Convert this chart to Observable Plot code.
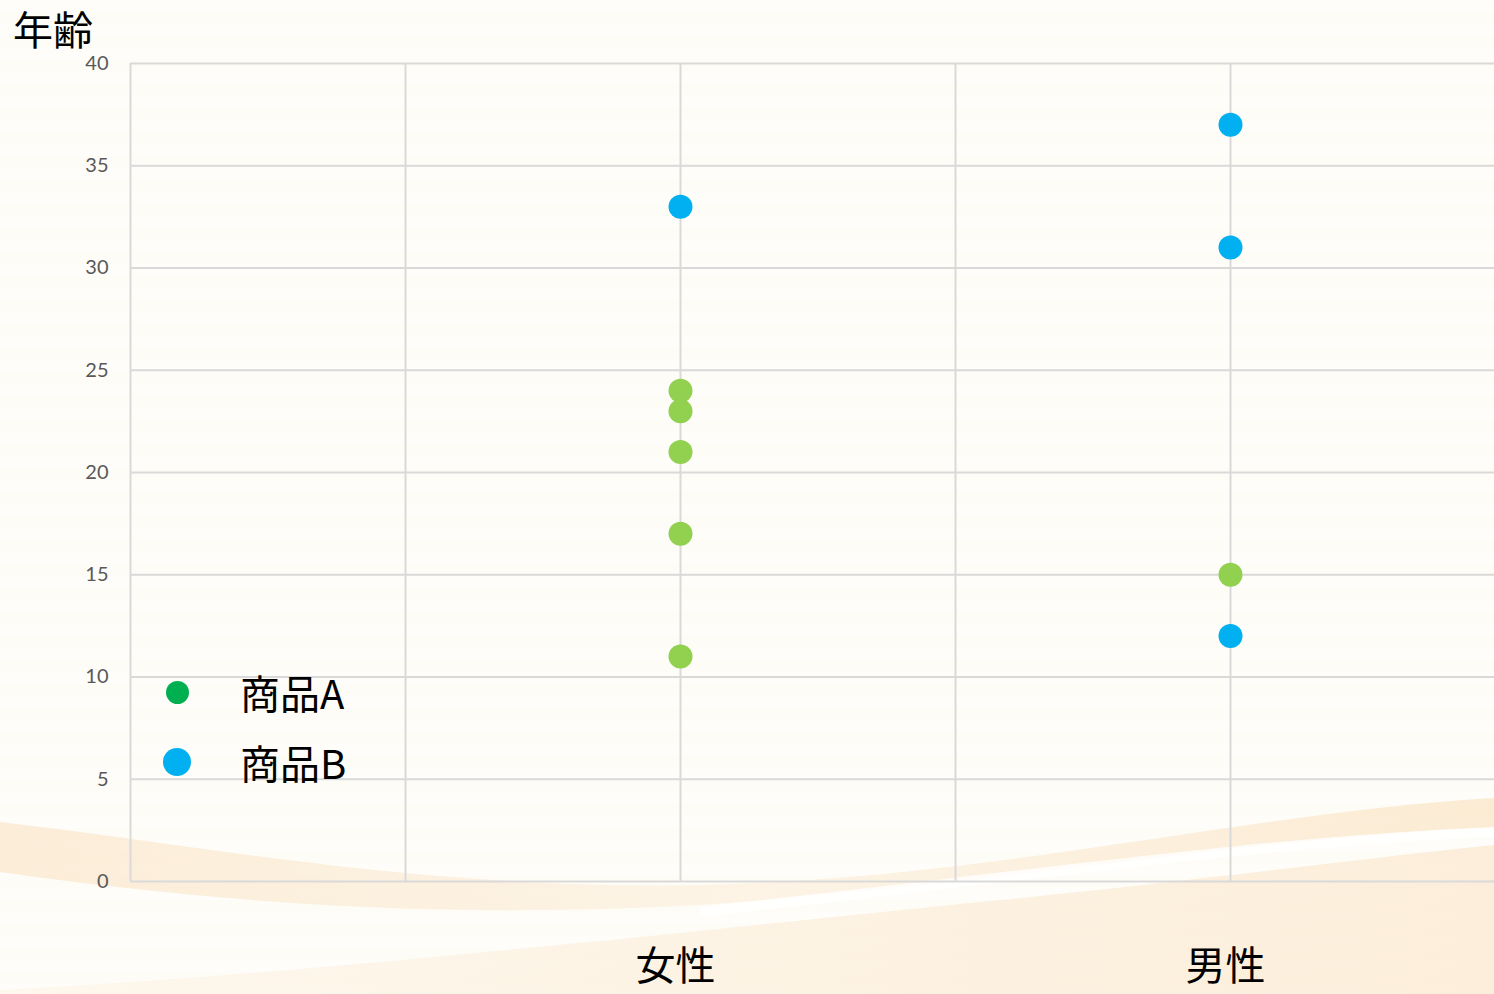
<!DOCTYPE html>
<html>
<head>
<meta charset="utf-8">
<script src="https://cdn.jsdelivr.net/npm/d3@7"></script>
<script src="https://cdn.jsdelivr.net/npm/@observablehq/plot@0.6"></script>
<style>
  html, body { margin: 0; padding: 0; overflow: hidden; background: #fefcf8; }
  #wrap { position: relative; width: 1494px; height: 994px; overflow: hidden; }
  #bg { position: absolute; left: 0; top: 0; }
  #chart { position: absolute; left: 0; top: 0; }
  #title { position: absolute; left: 13px; top: 8px; font-family: "Noto Sans CJK JP"; font-size: 40px; color: #000; line-height: 1; }
  .leg { position: absolute; left: 163px; display: flex; align-items: center; font-family: "Noto Sans CJK JP"; font-size: 40px; color: #000; line-height: 1.2; }
  .leg .dot { border-radius: 50%; display: inline-block; }
</style>
</head>
<body>
<div id="wrap">
  <svg id="bg" width="1494" height="994">
    <defs>
      <linearGradient id="bottomGrad" x1="0" y1="0" x2="1" y2="0">
        <stop offset="0" stop-color="#fdf6ea"/>
        <stop offset="0.6" stop-color="#fcefdc"/>
        <stop offset="1" stop-color="#fbead2"/>
      </linearGradient>
      <linearGradient id="bandGrad" x1="0" y1="0" x2="1" y2="0">
        <stop offset="0" stop-color="#fae6c9"/>
        <stop offset="0.5" stop-color="#fcf0de"/>
        <stop offset="1" stop-color="#fae4c4"/>
      </linearGradient>
      <pattern id="stripes" width="10" height="24" patternUnits="userSpaceOnUse">
        <rect width="10" height="12" fill="#ffffff" opacity="0.35"/>
      </pattern>
    </defs>
    <rect width="1494" height="994" fill="#fefcf7"/>
    <rect width="1494" height="994" fill="url(#stripes)"/>
    <path d="M0,990 C 300,975 700,930 1000,900 C 1200,880 1350,860 1494,845 L1494,994 L0,994 Z" fill="url(#bottomGrad)" opacity="0.8"/>
    <path d="M0,822 C 200,845 420,890 700,885 C 1000,878 1250,812 1494,798 L1494,828 C 1260,836 1000,885 700,905 C 420,920 200,900 0,872 Z" fill="url(#bandGrad)" opacity="0.7"/>
    <path d="M700,912 C 1000,880 1250,842 1494,832" fill="none" stroke="#ffffff" stroke-width="10" opacity="0.8"/>
  </svg>
  <div id="chart"></div>
  <div id="title">年齢</div>
  <div class="leg" style="top:668px;"><span class="dot" style="width:23px;height:23px;background:#00b050;margin-left:3px;margin-right:51px;"></span><span>商品A</span></div>
  <div class="leg" style="top:738px;"><span class="dot" style="width:28px;height:28px;background:#00b0f0;margin-right:49px;"></span><span>商品B</span></div>
</div>
<script>
// ---- data ----
const categories = ["女性", "男性"];
const categoryPos = [1, 2];
const productA_gender = ["女性", "女性", "女性", "女性", "女性", "男性"];
const productA_age = [24, 23, 21, 17, 11, 15];
const productB_gender = ["女性", "男性", "男性", "男性"];
const productB_age = [33, 37, 31, 12];
const yTicks = [0, 5, 10, 15, 20, 25, 30, 35, 40];
const xGrid = [0.5, 1, 1.5, 2];

const posOf = g => categoryPos[categories.indexOf(g)];
const dataA = productA_gender.map((g, i) => ({x: posOf(g), age: productA_age[i], product: "商品A"}));
const dataB = productB_gender.map((g, i) => ({x: posOf(g), age: productB_age[i], product: "商品B"}));

const gridStyle = {stroke: "#d9d9d9", strokeOpacity: 1, strokeWidth: 2};

const chart = Plot.plot({
  width: 1494,
  height: 994,
  marginLeft: 130,
  marginRight: 0,
  marginTop: 63,
  marginBottom: 113,
  style: {background: "transparent", overflow: "visible"},
  x: {domain: [0, 2.48]},
  y: {domain: [0, 40]},
  marks: [
    Plot.gridX(xGrid, gridStyle),
    Plot.gridY(yTicks.filter(d => d > 0), gridStyle),
    Plot.ruleX([0], gridStyle),
    Plot.ruleY([0], gridStyle),
    Plot.axisY(yTicks, {tickSize: 0, tickPadding: 22, fontSize: 20, fill: "#595959", fontFamily: "Lato, 'Open Sans', sans-serif", label: null}),
    Plot.axisX(categoryPos, {tickSize: 0, tickPadding: 70, dx: -5, fontSize: 40, fill: "#000", fontFamily: "'Noto Sans CJK JP'", tickFormat: d => categories[categoryPos.indexOf(d)], label: null}),
    Plot.dot(dataA, {x: "x", y: "age", r: 12, fill: "#92d050", stroke: null}),
    Plot.dot(dataB, {x: "x", y: "age", r: 12, fill: "#00b0f0", stroke: null})
  ]
});
document.getElementById("chart").appendChild(chart);
</script>
</body>
</html>
